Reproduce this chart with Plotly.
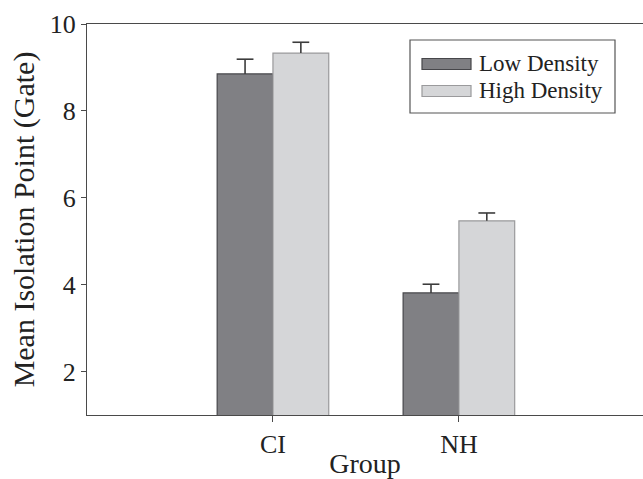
import plotly.graph_objects as go

groups = ["CI", "NH"]
group_pos = [1, 2]
low_density = [8.85, 3.81]
low_err = [0.34, 0.20]
high_density = [9.33, 5.47]
high_err = [0.25, 0.18]
series_names = ["Low Density", "High Density"]
y_ticks = [2, 4, 6, 8, 10]

W, H = 643, 479
L, R, T, B = 87, 0, 24, 64
pw, ph = W - L - R, H - T - B

FONT = "Liberation Serif, Times New Roman, serif"
LOW_C, LOW_E = "#808084", "#46464a"
HIGH_C, HIGH_E = "#d5d6d8", "#9a9a9c"
ERR_C = "#3c3c3c"

fig = go.Figure()
for name, vals, errs, fc, ec in [(series_names[0], low_density, low_err, LOW_C, LOW_E),
                                 (series_names[1], high_density, high_err, HIGH_C, HIGH_E)]:
    # bar with upward-only stem (no caps)
    fig.add_bar(x=group_pos, y=vals, name=name, offsetgroup=name, alignmentgroup="g",
                marker=dict(color=fc, line=dict(color=ec, width=1.2)),
                error_y=dict(type="data", symmetric=False, array=errs,
                             color=ERR_C, thickness=1.6, width=0))
    # cap at the top of each error bar
    fig.add_scatter(x=group_pos, y=[v + e for v, e in zip(vals, errs)], mode="markers",
                    offsetgroup=name, alignmentgroup="g", showlegend=False, hoverinfo="skip",
                    marker=dict(symbol="line-ew", size=12, line=dict(color=ERR_C, width=1.6)))


def px(x):
    return (x - L) / pw


def py(y):
    return (H - B - y) / ph


shapes = [
    dict(type="rect", xref="paper", yref="paper", x0=px(410), x1=px(615), y0=py(113), y1=py(40),
         line=dict(color="#555555", width=1.2), fillcolor="white", layer="above"),
    dict(type="rect", xref="paper", yref="paper", x0=px(422), x1=px(471), y0=py(69.5), y1=py(58.5),
         line=dict(color=LOW_E, width=1.2), fillcolor=LOW_C, layer="above"),
    dict(type="rect", xref="paper", yref="paper", x0=px(422), x1=px(471), y0=py(96.5), y1=py(85.5),
         line=dict(color=HIGH_E, width=1.2), fillcolor=HIGH_C, layer="above"),
]
annotations = [
    dict(xref="paper", yref="paper", x=px(477), y=py(64), text=series_names[0], showarrow=False,
         xanchor="left", yanchor="middle", font=dict(family=FONT, size=23, color="#222222")),
    dict(xref="paper", yref="paper", x=px(477), y=py(91), text=series_names[1], showarrow=False,
         xanchor="left", yanchor="middle", font=dict(family=FONT, size=23, color="#222222")),
]

fig.update_layout(
    width=W, height=H,
    margin=dict(l=L, r=R, t=T, b=B, autoexpand=False),
    paper_bgcolor="white", plot_bgcolor="white",
    barmode="group", bargap=0.4, bargroupgap=0,
    scattermode="group", scattergap=0.4,
    showlegend=False,
    font=dict(family=FONT, color="#222222"),
    shapes=shapes, annotations=annotations,
    xaxis=dict(range=[0, 2.99], tickvals=group_pos, ticktext=groups, automargin=False,
               showline=True, linecolor="#4a4a4a", linewidth=1.3, mirror=True,
               ticks="outside", ticklen=6, tickcolor="#4a4a4a", tickwidth=1.2,
               showgrid=False, zeroline=False,
               tickfont=dict(family=FONT, size=26, color="#222222"),
               title=dict(text="Group", font=dict(family=FONT, size=28, color="#222222"), standoff=2)),
    yaxis=dict(range=[1, 10], tickvals=y_ticks, automargin=False,
               showline=True, linecolor="#4a4a4a", linewidth=1.3, mirror=False,
               ticks="outside", ticklen=5, tickcolor="#4a4a4a", tickwidth=1.2,
               showgrid=False, zeroline=False,
               tickfont=dict(family=FONT, size=26, color="#222222"),
               title=dict(text="Mean Isolation Point (Gate)", font=dict(family=FONT, size=30, color="#222222"),
                          standoff=6)),
)

fig.write_html("out.html", config={"displayModeBar": False},
               post_script="document.body.style.margin='0';document.body.style.overflow='hidden';")
